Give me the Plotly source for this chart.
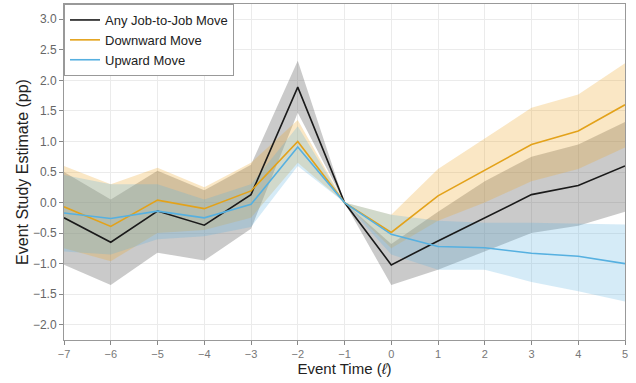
import plotly.graph_objects as go

event_time = [-7, -6, -5, -4, -3, -2, -1, 0, 1, 2, 3, 4, 5]

any_est = [-0.25, -0.65, -0.14, -0.37, 0.13, 1.89, 0.0, -1.02, -0.63, -0.25, 0.13, 0.28, 0.60]
any_lo = [-1.02, -1.35, -0.82, -0.95, -0.43, 1.47, 0.0, -1.35, -1.10, -0.80, -0.50, -0.38, -0.15]
any_hi = [0.50, 0.05, 0.52, 0.20, 0.62, 2.32, 0.0, -0.68, -0.15, 0.35, 0.75, 0.95, 1.32]

down_est = [-0.07, -0.39, 0.04, -0.10, 0.19, 1.00, 0.0, -0.49, 0.11, 0.53, 0.95, 1.17, 1.60]
down_lo = [-0.75, -0.96, -0.50, -0.45, -0.25, 0.65, 0.0, -0.75, -0.30, 0.00, 0.35, 0.55, 0.90]
down_hi = [0.60, 0.30, 0.57, 0.25, 0.65, 1.35, 0.0, -0.20, 0.55, 1.05, 1.55, 1.77, 2.28]

up_est = [-0.17, -0.26, -0.14, -0.25, -0.03, 0.91, 0.0, -0.52, -0.72, -0.74, -0.83, -0.88, -1.00]
up_lo = [-0.80, -0.85, -0.60, -0.55, -0.40, 0.60, 0.0, -0.85, -1.10, -1.10, -1.30, -1.45, -1.62]
up_hi = [0.45, 0.30, 0.30, 0.05, 0.30, 1.25, 0.0, -0.20, -0.30, -0.33, -0.33, -0.35, -0.36]

y_ticks = [-2, -1.5, -1, -0.5, 0, 0.5, 1, 1.5, 2, 2.5, 3]

series = [
    ("Any Job-to-Job Move", any_est, any_lo, any_hi, "#1a1a1a", "rgba(90,90,90,0.32)"),
    ("Downward Move", down_est, down_lo, down_hi, "#E3A21A", "rgba(238,170,45,0.28)"),
    ("Upward Move", up_est, up_lo, up_hi, "#56B0E0", "rgba(86,176,224,0.25)"),
]

fig = go.Figure()
for name, est, lo, hi, col, fill in series:
    fig.add_trace(go.Scatter(x=event_time, y=lo, mode="lines", line=dict(width=0),
                             showlegend=False, hoverinfo="skip"))
    fig.add_trace(go.Scatter(x=event_time, y=hi, mode="lines", line=dict(width=0),
                             fill="tonexty", fillcolor=fill, showlegend=False, hoverinfo="skip"))
for name, est, lo, hi, col, fill in series:
    fig.add_trace(go.Scatter(x=event_time, y=est, mode="lines", name=name,
                             line=dict(color=col, width=1.6)))

fig.update_layout(
    width=636, height=383,
    margin=dict(l=64, r=11, t=4, b=43, autoexpand=False),
    paper_bgcolor="white", plot_bgcolor="white",
    font=dict(family="Liberation Sans, Arial, sans-serif", color="#222"),
    legend=dict(x=0, y=1, xanchor="left", yanchor="top", traceorder="normal",
                bgcolor="white", bordercolor="#999", borderwidth=1,
                itemwidth=30,
                font=dict(size=13, color="#222"), tracegroupgap=0),
)
fig.update_xaxes(range=[-7, 5], tickvals=event_time, ticks="outside", ticklen=4,
                 tickcolor="#888", tickfont=dict(size=11, color="#777"),
                 showline=True, linecolor="#999", mirror=True, automargin=False,
                 gridcolor="#ebebeb", zeroline=False,
                 title=dict(text="Event Time (<i>ℓ</i>)", font=dict(size=15, color="#222"), standoff=2))
fig.update_yaxes(range=[-2.25, 3.25], tickvals=y_ticks,
                 tickformat=".1f", ticks="outside", ticklen=4,
                 tickcolor="#888", tickfont=dict(size=12, color="#666"),
                 showline=True, linecolor="#999", mirror=True, automargin=False,
                 gridcolor="#ebebeb", zeroline=False,
                 title=dict(text="Event Study Estimate (pp)", font=dict(size=16, color="#222"), standoff=0))

fig.write_html("out.html", config={"displayModeBar": False},
               post_script="document.body.style.margin='0';document.body.style.overflow='hidden';")
